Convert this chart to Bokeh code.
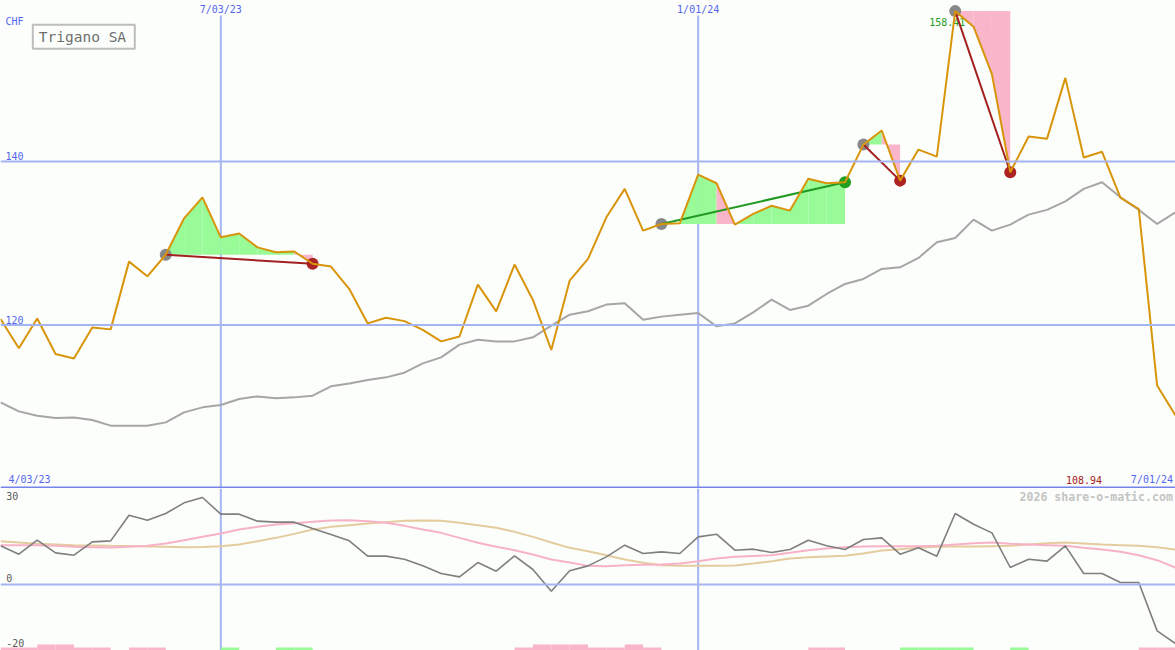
import numpy as np
import pandas as pd
from bokeh.plotting import figure
from bokeh.layouts import column
from bokeh.models import Range1d, Span
from bokeh.core.properties import value
from bokeh.embed import file_html
from bokeh.resources import INLINE

# ---------------------------------------------------------------- data
security = "Trigano SA"
currency = "CHF"
week_dates = pd.date_range("2023-04-10", "2024-07-01", freq="7D")  # weekly closes

close = [120.75, 117.15, 120.8, 116.46, 115.9, 119.7, 119.47, 127.76, 125.96, 128.6,
         133.06, 135.63, 130.73, 131.2, 129.5, 128.9, 129.0, 127.5, 127.15, 124.4,
         120.2, 120.9, 120.48, 119.4, 118.0, 118.6, 124.94, 121.68, 127.4, 123.07,
         116.95, 125.43, 128.09, 133.18, 136.66, 131.55, 132.37, 132.45, 138.4, 137.35,
         132.29, 133.6, 134.6, 134.0, 137.9, 137.35, 137.47, 142.08, 143.8, 137.67,
         141.47, 140.6, 158.41, 156.5, 150.7, 138.7, 143.06, 142.78, 150.24, 140.5,
         141.2, 135.6, 134.2, 112.6, 108.94]

average = [110.54, 109.44, 108.91, 108.63, 108.70, 108.38, 107.69, 107.69, 107.69, 108.09,
           109.31, 109.93, 110.22, 110.95, 111.27, 111.03, 111.15, 111.36, 112.50, 112.86,
           113.28, 113.6, 114.17, 115.31, 116.05, 117.6, 118.21, 118.0, 118.0, 118.5,
           119.93, 121.27, 121.68, 122.5, 122.66, 120.66, 121.03, 121.27, 121.48, 119.84,
           120.2, 121.55, 123.11, 121.85, 122.37, 123.8, 125.03, 125.64, 126.87, 127.06,
           128.21, 130.12, 130.66, 132.9, 131.55, 132.29, 133.51, 134.09, 135.14, 136.66,
           137.47, 135.63, 134.09, 132.37, 133.79]

momentum = [12.28, 9.63, 14.07, 10.05, 9.31, 13.54, 13.86, 22.01, 20.42, 22.54,
            25.93, 27.62, 22.33, 22.33, 20.11, 19.79, 19.79, 17.78, 15.87, 13.86,
            9.0, 9.0, 8.04, 5.92, 3.49, 2.43, 6.98, 4.23, 9.10, 4.76,
            -2.12, 4.34, 5.92, 8.78, 12.49, 9.84, 10.37, 9.84, 15.13, 15.98,
            10.9, 11.22, 10.16, 11.11, 14.07, 12.28, 11.11, 14.29, 14.81, 9.63,
            11.64, 9.0, 22.54, 19.15, 16.4, 5.4, 8.04, 7.41, 12.28, 3.49,
            3.49, 0.63, 0.63, -14.71, -18.73]

signal_fast = [12.49, 12.49, 12.5, 12.3, 11.96, 11.85, 11.75, 11.96, 12.28, 13.0,
               14.07, 15.13, 16.19, 17.46, 18.3, 19.05, 19.47, 19.89, 20.32, 20.42,
               20.11, 19.58, 18.62, 17.46, 16.4, 14.81, 13.23, 11.96, 10.9, 9.52,
               7.94, 6.98, 5.92, 5.8, 6.14, 6.24, 6.35, 6.67, 7.41, 8.25,
               8.78, 9.09, 9.31, 10.05, 10.9, 11.43, 11.85, 12.06, 12.17, 12.17,
               12.17, 12.28, 12.7, 13.12, 13.33, 12.91, 12.7, 12.49, 12.28, 11.64,
               11.11, 10.37, 9.31, 7.72, 5.4]

signal_slow = [13.76, 13.33, 12.91, 12.7, 12.49, 12.4, 12.28, 12.2, 12.06, 11.96,
               11.85, 11.9, 12.17, 12.7, 13.76, 14.81, 16.08, 17.46, 18.3, 18.84,
               19.37, 19.79, 20.21, 20.32, 20.21, 19.58, 18.84, 18.0, 16.72, 15.13,
               13.33, 11.64, 10.58, 9.31, 7.94, 6.88, 6.14, 5.92, 5.92, 5.92,
               6.03, 6.67, 7.41, 8.25, 8.68, 8.89, 9.1, 9.84, 10.79, 11.22,
               11.64, 11.96, 12.06, 12.06, 12.17, 12.28, 12.7, 13.12, 13.33, 13.02,
               12.7, 12.49, 12.28, 11.85, 11.11]

# weekly trend signal, one value per week-to-week step (+ up, - down)
trend_strip = [-1, -1, -2, -2, -1, -1, 0, -1, -1, 0, 0, 0, 1, 0, 0, 1, 1,
               0, 0, 0, 0, 0, 0, 0, 0, 0, 0, 0,
               -1, -2, -2, -2, -1, -1, -2, -1,
               0, 0, 0, 0, 0, 0, 0, 0,
               -1, -1, 0, 0, 0, 1, 1, 1, 1, 0, 0, 1,
               0, 0, 0, 0, 0, 0, -1, -1]

trade_start = [9, 36, 47, 52]
trade_end = [17, 46, 49, 55]

price_levels = [140, 120]
osc_levels = [30, 0, -20]
osc_grid = [0]
date_ticks = ["2023-07-03", "2024-01-01"]
date_tick_labels = ["7/03/23", "1/01/24"]
first_label = "4/03/23"
last_label = "7/01/24"
watermark = "2026 share-o-matic.com"

# ---------------------------------------------------------------- layout / style
W, H_TOP, H_BOT = 1175, 488, 162
PRICE_LO, PRICE_HI = 100.0, 159.71
OSC_LO, OSC_HI = -20.95, 30.48

BG = "#fcfefb"
GRID = "#a5b4f2"
FRAME = "#7484ea"
AXIS_TXT = "#5566ee"
MONO = "DejaVu Sans Mono"
PRICE_COL = "#d8950b"
AVG_COL = "#a6a6a6"
GAIN_FILL = "#98fb98"
LOSS_FILL = "#f9b5c9"
GAIN_LINE = "#229922"
LOSS_LINE = "#a32020"
GAIN_DOT = "#22a022"
LOSS_DOT = "#ad2222"
START_DOT = "#888888"


def ms(d):
    return pd.Timestamp(d).value / 1e6


x = np.array([ms(d) for d in week_dates])
X0, X1 = x[0], x[-1]
n = len(x)


def px(h):
    """horizontal page pixel -> x data"""
    return X0 + (X1 - X0) * h / W


def top_y(v):
    """vertical page pixel -> price"""
    return PRICE_HI - (PRICE_HI - PRICE_LO) * v / H_TOP


def bot_y(v):
    """vertical page pixel -> oscillator value"""
    return OSC_HI - (OSC_HI - OSC_LO) * (v - H_TOP) / H_BOT


def price_px(p):
    return (PRICE_HI - p) / (PRICE_HI - PRICE_LO) * H_TOP


def panel(h, lo, hi):
    p = figure(width=W, height=h, x_range=Range1d(X0, X1), y_range=Range1d(lo, hi),
               output_backend="svg", toolbar_location=None,
               x_axis_location=None, y_axis_location=None, min_border=0,
               background_fill_color=BG, border_fill_color=BG)
    p.outline_line_color = None
    p.xgrid.visible = False
    p.ygrid.visible = False
    return p


def put(p, hx, y, s, color, align="left", size="10px", style="normal"):
    # y is the vertical middle of the text
    p.text(x=[hx], y=[y], text=[s], text_font=value(MONO), text_font_size=size,
           text_color=color, text_align=align, text_baseline="middle",
           text_font_style=style)


tick_x = [ms(d) for d in date_ticks]

# ---------------------------------------------------------------- price panel
top = panel(H_TOP, PRICE_LO, PRICE_HI)
for lvl in price_levels:
    top.add_layout(Span(location=lvl, dimension="width", line_color=GRID, line_width=2))
top.segment(x0=tick_x, y0=[top_y(15)] * len(tick_x), x1=tick_x, y1=[PRICE_LO] * len(tick_x),
            line_color=GRID, line_width=2)
top.add_layout(Span(location=top_y(487), dimension="width", line_color=FRAME, line_width=2))

# shaded trade areas measured against the entry level
fx, fy, fc = [], [], []
for s, e in zip(trade_start, trade_end):
    base = close[s]
    for j in range(s, e):
        fx.append([x[j], x[j], x[j + 1], x[j + 1]])
        fy.append([base, close[j], close[j + 1], base])
        fc.append(GAIN_FILL if close[j + 1] >= base else LOSS_FILL)
top.patches(fx, fy, fill_color=fc, line_color=None)

top.line(x, average, line_color=AVG_COL, line_width=2)

# label at the highest close
imax = int(np.argmax(close))
put(top, px(imax * W / (n - 1) - 26), top_y(price_px(close[imax]) + 10.5),
    f"{close[imax]:.2f}", GAIN_DOT)

# trade markers and connecting lines
sx = [x[s] for s in trade_start]
sy = [close[s] for s in trade_start]
ex = [x[e] for e in trade_end]
ey = [close[e] for e in trade_end]
win = [close[e] >= close[s] for s, e in zip(trade_start, trade_end)]
top.scatter(sx, sy, size=12, fill_color=START_DOT, line_color=None)
top.scatter(ex, ey, size=12, fill_color=[GAIN_DOT if w else LOSS_DOT for w in win], line_color=None)
top.segment(x0=sx, y0=sy, x1=ex, y1=ey, line_width=2,
            line_color=[GAIN_LINE if w else LOSS_LINE for w in win])

top.line(x, close, line_color=PRICE_COL, line_width=2)

# texts
put(top, px(5), top_y(21), currency, AXIS_TXT)
for lvl in price_levels:
    put(top, px(5), top_y(price_px(lvl) - 5.5), str(lvl), AXIS_TXT)
for tx, lab in zip(tick_x, date_tick_labels):
    put(top, tx, top_y(8.5), lab, AXIS_TXT, align="center")
put(top, px(8), top_y(479), first_label, AXIS_TXT)
put(top, px(1172.5), top_y(479), last_label, AXIS_TXT, align="right")
put(top, px(1101.5), top_y(479), f"{close[-1]:.2f}", LOSS_LINE, align="right")

# name box
top.quad(left=[px(32.3)], right=[px(134.3)], top=[top_y(24.3)], bottom=[top_y(48.3)],
         fill_color=BG, line_color="#bdbdbd", line_width=2)
put(top, px(38.3), top_y(36), security, "#6e6e6e", size="14.5px")

# ---------------------------------------------------------------- oscillator panel
bot = panel(H_BOT, OSC_LO, OSC_HI)
for lvl in osc_grid:
    bot.add_layout(Span(location=lvl, dimension="width", line_color=GRID, line_width=2))
bot.segment(x0=tick_x, y0=[OSC_LO] * len(tick_x), x1=tick_x, y1=[OSC_HI] * len(tick_x),
            line_color=GRID, line_width=2)

unit = 3 * (OSC_HI - OSC_LO) / H_BOT
ql, qr, qt, qc = [], [], [], []
for j, v in enumerate(trend_strip):
    if v == 0:
        continue
    ql.append(x[j])
    qr.append(x[j + 1])
    qt.append(OSC_LO + abs(v) * unit)
    qc.append(GAIN_FILL if v > 0 else LOSS_FILL)
bot.quad(left=ql, right=qr, bottom=[OSC_LO] * len(ql), top=qt, fill_color=qc, line_color=None)

bot.line(x, signal_slow, line_color="#e4cc9e", line_width=2)
bot.line(x, signal_fast, line_color="#f7b2c8", line_width=2)
bot.line(x, momentum, line_color="#7f7f7f", line_width=1.6)

osc_mid = {30: 495.5, 0: 577.5, -20: 642}
for lvl in osc_levels:
    put(bot, px(5.7), bot_y(osc_mid[lvl]), str(lvl), "#5a5a5a")
put(bot, px(1172.5), bot_y(496), watermark, "#c4c4c4", align="right", size="11.6px", style="bold")

layout = column(top, bot, spacing=0)
open("out.html", "w").write(file_html(layout, INLINE))
